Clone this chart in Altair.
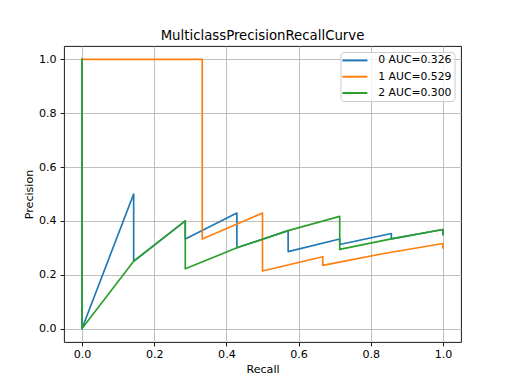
import altair as alt
import pandas as pd

# Class labels (legend text) and colours
labels = ["0 AUC=0.326", "1 AUC=0.529", "2 AUC=0.300"]
colors = ["#1f77b4", "#ff7f0e", "#2ca02c"]

# Class 0 curve points (drawing order)
recall_0 = [0.0, 0.0, 0.143, 0.143, 0.286, 0.286, 0.429, 0.429, 0.571, 0.571,
            0.714, 0.714, 0.857, 0.857, 1.0, 1.0]
precision_0 = [1.0, 0.0, 0.5, 0.25, 0.4, 0.333, 0.429, 0.3, 0.364, 0.286,
               0.333, 0.3125, 0.353, 0.333, 0.368, 0.35]

# Class 1 curve points
recall_1 = [0.0, 0.167, 0.333, 0.333, 0.5, 0.5, 0.667, 0.667, 0.833, 1.0, 1.0]
precision_1 = [1.0, 1.0, 1.0, 0.333, 0.429, 0.214, 0.267, 0.235, 0.278, 0.316, 0.3]

# Class 2 curve points
recall_2 = [0.0, 0.0, 0.143, 0.286, 0.286, 0.429, 0.571, 0.714, 0.714, 0.857, 1.0, 1.0]
precision_2 = [1.0, 0.0, 0.25, 0.4, 0.222, 0.3, 0.364, 0.417, 0.294, 0.333, 0.368, 0.35]

ticks = [0.0, 0.2, 0.4, 0.6, 0.8, 1.0]

rows = []
for lab, rs, ps in zip(labels, [recall_0, recall_1, recall_2],
                       [precision_0, precision_1, precision_2]):
    for i, (r, p) in enumerate(zip(rs, ps)):
        rows.append({"cls": lab, "recall": r, "precision": p, "idx": i})
df = pd.DataFrame(rows)

FONT = "DejaVu Sans"

chart = alt.Chart(df).mark_line(strokeWidth=1.67, strokeCap="square", strokeJoin="round", clip=True).encode(
    x=alt.X("recall:Q", title="Recall",
            scale=alt.Scale(domain=[-0.05, 1.05], nice=False, zero=False),
            axis=alt.Axis(values=ticks, format=".1f", labelFontSize=11.1, titleFontSize=11.1,
                          titleFontWeight="normal", labelColor="#000", titleColor="#000",
                          tickColor="#000", tickSize=3.9, tickWidth=0.9, labelPadding=3,
                          titlePadding=3, gridColor="#b0b0b0", gridWidth=0.8, domain=False,
                          labelFont=FONT, titleFont=FONT, labelFlush=False)),
    y=alt.Y("precision:Q", title="Precision",
            scale=alt.Scale(domain=[-0.05, 1.05], nice=False, zero=False),
            axis=alt.Axis(values=ticks, format=".1f", labelFontSize=11.1, titleFontSize=11.1,
                          titleFontWeight="normal", labelColor="#000", titleColor="#000",
                          tickColor="#000", tickSize=3.9, tickWidth=0.9, labelPadding=4,
                          titlePadding=4, gridColor="#b0b0b0", gridWidth=0.8, domain=False,
                          labelFont=FONT, titleFont=FONT, labelFlush=False)),
    color=alt.Color("cls:N", scale=alt.Scale(domain=labels, range=colors),
                    legend=alt.Legend(title=None, orient="none", legendX=276.5, legendY=6,
                                      symbolType="M-5,0H5", symbolSize=25, symbolStrokeWidth=2,
                                      symbolOffset=6, labelOffset=18,
                                      labelFontSize=10.8, labelFont=FONT, labelColor="#000",
                                      rowPadding=4.3, padding=3,
                                      fillColor="rgba(255,255,255,0.8)", strokeColor="#cccccc",
                                      cornerRadius=3)),
    order="idx:Q",
).properties(
    width=397, height=296,
    title=alt.TitleParams("MulticlassPrecisionRecallCurve", fontSize=13.3, fontWeight="normal",
                          font=FONT, color="#000", offset=4),
    autosize=alt.AutoSizeParams(type="none"),
    padding={"left": 56, "top": 38, "right": 40, "bottom": 40},
).configure_view(stroke="#000", strokeWidth=0.9)

chart.save("out.html", embed_options={"renderer": "svg", "actions": False})
